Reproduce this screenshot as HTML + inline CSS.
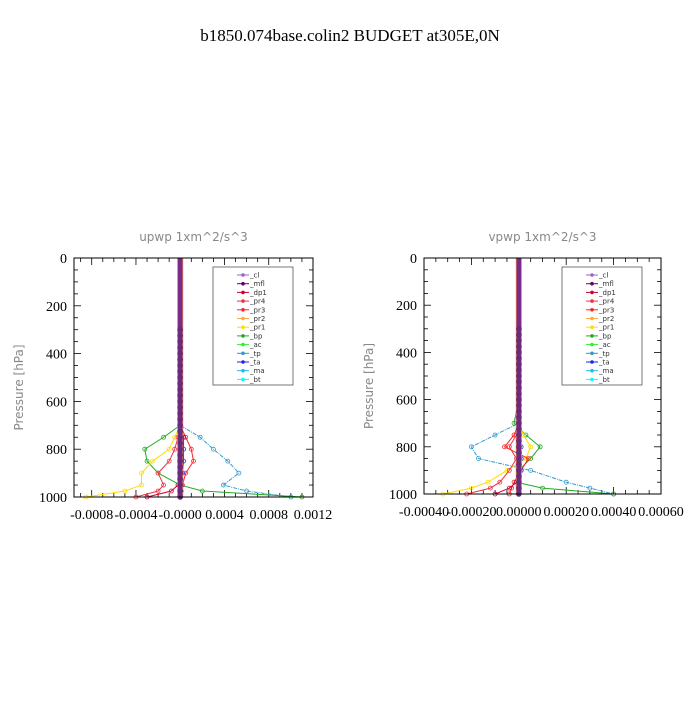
<!DOCTYPE html>
<html><head><meta charset="utf-8"><style>
body{margin:0;background:#fff;width:700px;height:700px;overflow:hidden}
svg text{font-family:"Liberation Serif",serif}
.st{font-family:"DejaVu Sans","Liberation Sans",sans-serif;fill:#888;font-size:12px}
.lg{font-family:"DejaVu Sans","Liberation Sans",sans-serif;font-size:7px;fill:#333}
</style></head><body>
<svg id="c" width="700" height="700" xmlns="http://www.w3.org/2000/svg">
<text x="350" y="41" text-anchor="middle" font-size="17">b1850.074base.colin2  BUDGET at305E,0N</text>
</svg>
<script>
const names=["_cl","_mfl","_dp1","_pr4","_pr3","_pr2","_pr1","_bp","_ac","_tp","_ta","_ma","_bt"];
const colors=["#9966cc","#660066","#cc0033","#ee3344","#ff2222","#ffaa44","#ffdd00","#22aa22","#33ee33","#3399cc","#2222ee","#22bbee","#00ffff"];
const levels=[0,100,200,300,400,500,600,650,700,750,800,850,900,950,975,1000];
// upwp series (per level)
const uTp=[0,0,0,0,0,0,0,0,0,0.00018,0.0003,0.00043,0.00053,0.00039,0.0006,0.001];
const uBp=[0,0,0,0,0,0,0,0,0,-0.00015,-0.00032,-0.0003,-0.0002,0,0.0002,0.0011];
const uPr1=[0,0,0,0,0,0,0,0,0,-0.00005,-0.0001,-0.00025,-0.00035,-0.00035,-0.0005,-0.00085];
const uPr4=[0,0,0,0,0,0,0,0,0,-0.00002,-0.00005,-0.0001,-0.0002,-0.00015,-0.0002,-0.0004];
const uPr3=[0,0,0,0,0,0,0,0,0,0.00005,0.0001,0.00012,0.00005,0.00002,0.00001,0];
const uDp1=[0,0,0,0,0,0,0,0,0,0,0,0,0,-0.00002,-0.00008,-0.0003];
const uTa=[0,0,0,0,0,0,0,0,0,0.00003,0.00003,0.00003,0.00002,0.00001,0,0];
// vpwp series
const vTp=[0,0,0,0,0,0,0,0,0,-0.0001,-0.0002,-0.00017,0.00005,0.0002,0.0003,0.0004];
const vBp=[0,0,0,0,0,0,0,-0.00001,-0.00002,0.00003,0.00009,0.00005,0,-0.00001,0.0001,0.0004];
const vPr1=[0,0,0,0,0,0,0,0,0,0.00002,0.00005,0.00003,-0.00005,-0.00013,-0.0002,-0.00032];
const vPr4=[0,0,0,0,0,0,0,0,0,-0.00001,-0.00004,-0.00001,-0.00004,-0.00008,-0.00012,-0.00022];
const vPr3=[0,0,0,0,0,0,0,0,0,-0.00002,-0.00006,0.00004,0.00001,-0.00002,-0.00003,-0.00004];
const vDp1=[0,0,0,0,0,0,0,0,0,0,0,0,0,-0.00001,-0.00004,-0.0001];
const vTa=[0,0,0,0,0,0,0,0,0,0,0.00001,0.00001,0.00001,0,0,0];
const uTicks=[-0.0008,-0.0004,0,0.0004,0.0008,0.0012];
const uLabels=["-0.0008","-0.0004","-0.0000","0.0004","0.0008","0.0012"];
const vTicks=[-0.0004,-0.0002,0,0.0002,0.0004,0.0006];
const vLabels=["-0.00040","-0.00020","0.00000","0.00020","0.00040","0.00060"];
const yTicks=[0,200,400,600,800,1000];
const NS="http://www.w3.org/2000/svg";
const svg=document.getElementById('c');
function mk(t,a,p){const e=document.createElementNS(NS,t);for(const k in a)e.setAttribute(k,a[k]);(p||svg).appendChild(e);return e;}
function panel(id,x0,x1,y0,y1,xmin,xmax,xt,xl,minorStep,series,title){
  const g=mk('g',{});
  
  
  const sx=v=>x0+(v-xmin)/(xmax-xmin)*(x1-x0);
  const sy=p=>y0+p/1000*(y1-y0);
  const t=mk('text',{x:(x0+x1)/2,y:y0-17,'text-anchor':'middle',class:'st'},g);t.textContent=title;
  
  
  const yl=mk('text',{x:0,y:0,'text-anchor':'middle',class:'st',transform:`translate(${x0-51},${(y0+y1)/2+10}) rotate(-90)`},g);yl.textContent="Pressure [hPa]";
  
  
  // minor y ticks
  for(let p=0;p<=1000;p+=50){const L=p%200==0?7:4;mk('line',{x1:x0,x2:x0+L,y1:sy(p),y2:sy(p),stroke:'#000','stroke-width':0.8},g);mk('line',{x1:x1,x2:x1-L,y1:sy(p),y2:sy(p),stroke:'#000','stroke-width':0.8},g);}
  yTicks.forEach(p=>{const e=mk('text',{x:x0-7,y:sy(p)+5,'text-anchor':'end','font-size':14},g);e.textContent=p;
    
    });
  for(let v=Math.ceil(xmin/minorStep)*minorStep;v<=xmax+1e-12;v+=minorStep){const major=xt.some(q=>Math.abs(q-v)<minorStep/10);const L=major?7:4;mk('line',{x1:sx(v),x2:sx(v),y1:y0,y2:y0+L,stroke:'#000','stroke-width':0.8},g);mk('line',{x1:sx(v),x2:sx(v),y1:y1,y2:y1-L,stroke:'#000','stroke-width':0.8},g);}
  xt.forEach((v,i)=>{const e=mk('text',{x:sx(v),y:y1+22,'text-anchor':'middle','font-size':14},g);e.textContent=xl[i];
    
    });
  // series
  series.forEach(s=>{
    const pts=s.vals.map((v,i)=>sx(v)+','+sy(levels[i])).join(' ');
    const pl=mk('polyline',{points:pts,fill:'none',stroke:colors[s.c],'stroke-width':1,'stroke-dasharray':s.dash||''},g);
    
    
    s.vals.forEach((v,i)=>{if(levels[i]>=700)mk('circle',{cx:sx(v),cy:sy(levels[i]),r:2,fill:'none',stroke:colors[s.c],'stroke-width':0.8},g);});
  });
  // central thick line
  const cl=mk('line',{x1:sx(0),x2:sx(0),y1:y0,y2:y1,stroke:'#ee8844','stroke-width':6},g);
  
  
  mk('line',{x1:sx(0),x2:sx(0),y1:y0,y2:y1,stroke:'#7a2a8a','stroke-width':4.5},g);
  for(let p=300;p<=1000;p+=25)mk('circle',{cx:sx(0),cy:sy(p),r:2.8,fill:'#6a2a7a'},g);
  mk('rect',{x:x0,y:y0,width:x1-x0,height:y1-y0,fill:'none',stroke:'#000','stroke-width':1},g);
  // legend
  const lx=x0+(id=='upwp'?139:138),ly=y0+9;
  const lb=mk('rect',{x:lx,y:ly,width:80,height:118,fill:'#fff','fill-opacity':0,stroke:'#555','stroke-width':0.8},g);
  
  
  names.forEach((n,i)=>{const yy=ly+8+i*8.7;
    mk('line',{x1:lx+24,x2:lx+36,y1:yy,y2:yy,stroke:colors[i],'stroke-width':1},g);
    mk('circle',{cx:lx+30,cy:yy,r:1.8,fill:colors[i]},g);
    const e=mk('text',{x:lx+37,y:yy+2.5,class:'lg'},g);e.textContent=n;
    
    });
}
panel('upwp',74,313,258,497,-0.00096,0.0012,uTicks,uLabels,0.0001,[
 {c:9,vals:uTp,dash:'4 1 1 1'},{c:7,vals:uBp},{c:6,vals:uPr1},{c:3,vals:uPr4},{c:4,vals:uPr3},{c:2,vals:uDp1},{c:10,vals:uTa}],"upwp   1xm^2/s^3");
panel('vpwp',424,661,258,494,-0.0004,0.0006,vTicks,vLabels,0.00005,[
 {c:9,vals:vTp,dash:'4 1 1 1'},{c:7,vals:vBp},{c:6,vals:vPr1},{c:3,vals:vPr4},{c:4,vals:vPr3},{c:2,vals:vDp1},{c:10,vals:vTa}],"vpwp   1xm^2/s^3");
</script>
</body></html>
